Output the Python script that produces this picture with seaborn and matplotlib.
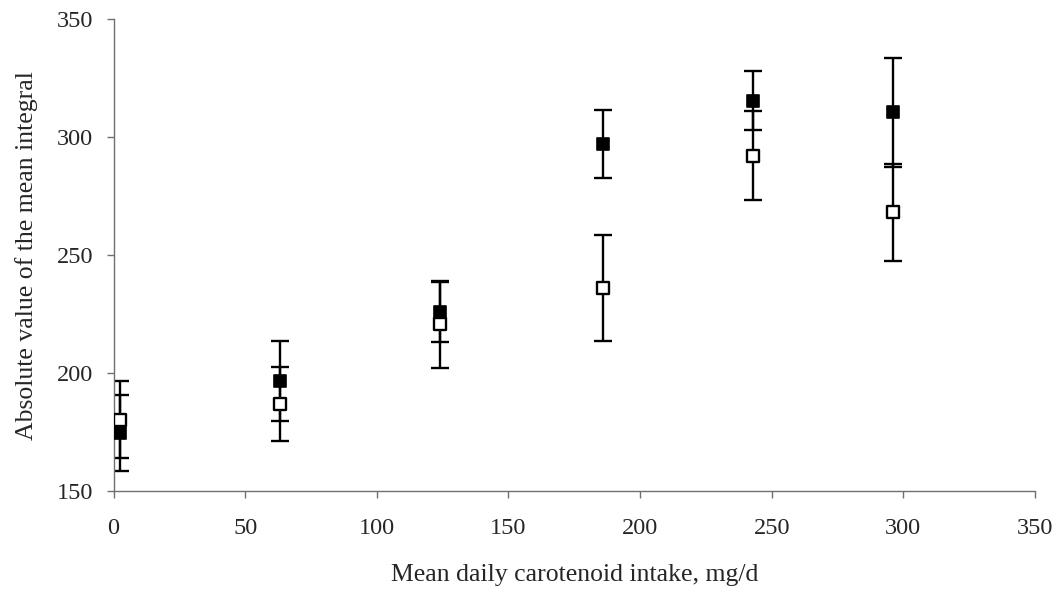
import numpy as np
import pandas as pd
import matplotlib
matplotlib.use("Agg")
import matplotlib.pyplot as plt
import seaborn as sns

# Mean daily carotenoid intake (mg/d) for each diet group
intake = [2.5, 63.3, 123.9, 185.9, 242.9, 295.9]

# Absolute value of the mean integral, two series with their error half-widths
filled_mean = [174.6, 196.6, 225.7, 297.0, 315.4, 310.5]
filled_err = [16.0, 17.0, 12.7, 14.5, 12.5, 23.0]
open_mean = [180.3, 186.9, 220.6, 236.1, 292.2, 268.1]
open_err = [16.5, 15.5, 18.6, 22.5, 19.0, 20.7]

x_ticks = [0, 50, 100, 150, 200, 250, 300, 350]
y_ticks = [150, 200, 250, 300, 350]

sns.set_theme(style="white")
plt.rcParams["font.family"] = ["Liberation Serif", "DejaVu Serif"]

df = pd.DataFrame({
    "intake": intake * 2,
    "value": filled_mean + open_mean,
    "err": filled_err + open_err,
    "series": ["filled"] * len(intake) + ["open"] * len(intake),
})

fig = plt.figure(figsize=(10.57, 5.99), dpi=100)
ax = fig.add_axes([0.1074, 0.1803, 0.8718, 0.7877])

for name, sub in df.groupby("series"):
    ax.errorbar(sub["intake"], sub["value"], yerr=sub["err"], fmt="none",
                ecolor="black", elinewidth=1.7, capsize=6.2, capthick=1.7,
                zorder=2)

sns.scatterplot(data=df[df.series == "filled"], x="intake", y="value",
                marker="s", s=85, color="black", edgecolor="black",
                linewidth=1.2, ax=ax, zorder=3, legend=False)
sns.scatterplot(data=df[df.series == "open"], x="intake", y="value",
                marker="s", s=72, color="white", edgecolor="black",
                linewidth=1.7, ax=ax, zorder=3, legend=False)

ax.set_xlim(0, 350)
ax.set_ylim(150, 350)
ax.set_xticks(x_ticks)
ax.set_yticks(y_ticks)
ax.tick_params(axis="both", labelsize=17.5, length=5, width=1.0,
               color="#707070", direction="out")
ax.tick_params(axis="x", bottom=True, pad=14.5)
ax.tick_params(axis="y", left=True, pad=9.5)

for side in ["top", "right"]:
    ax.spines[side].set_visible(False)
for side in ["left", "bottom"]:
    ax.spines[side].set_color("#707070")
    ax.spines[side].set_linewidth(1.0)

ax.set_xlabel("Mean daily carotenoid intake, mg/d", fontsize=18.5, labelpad=18)
ax.set_ylabel("Absolute value of the mean integral", fontsize=18.5, labelpad=13.5)
ax.grid(False)

fig.savefig("out.png", dpi=100, facecolor="white")
